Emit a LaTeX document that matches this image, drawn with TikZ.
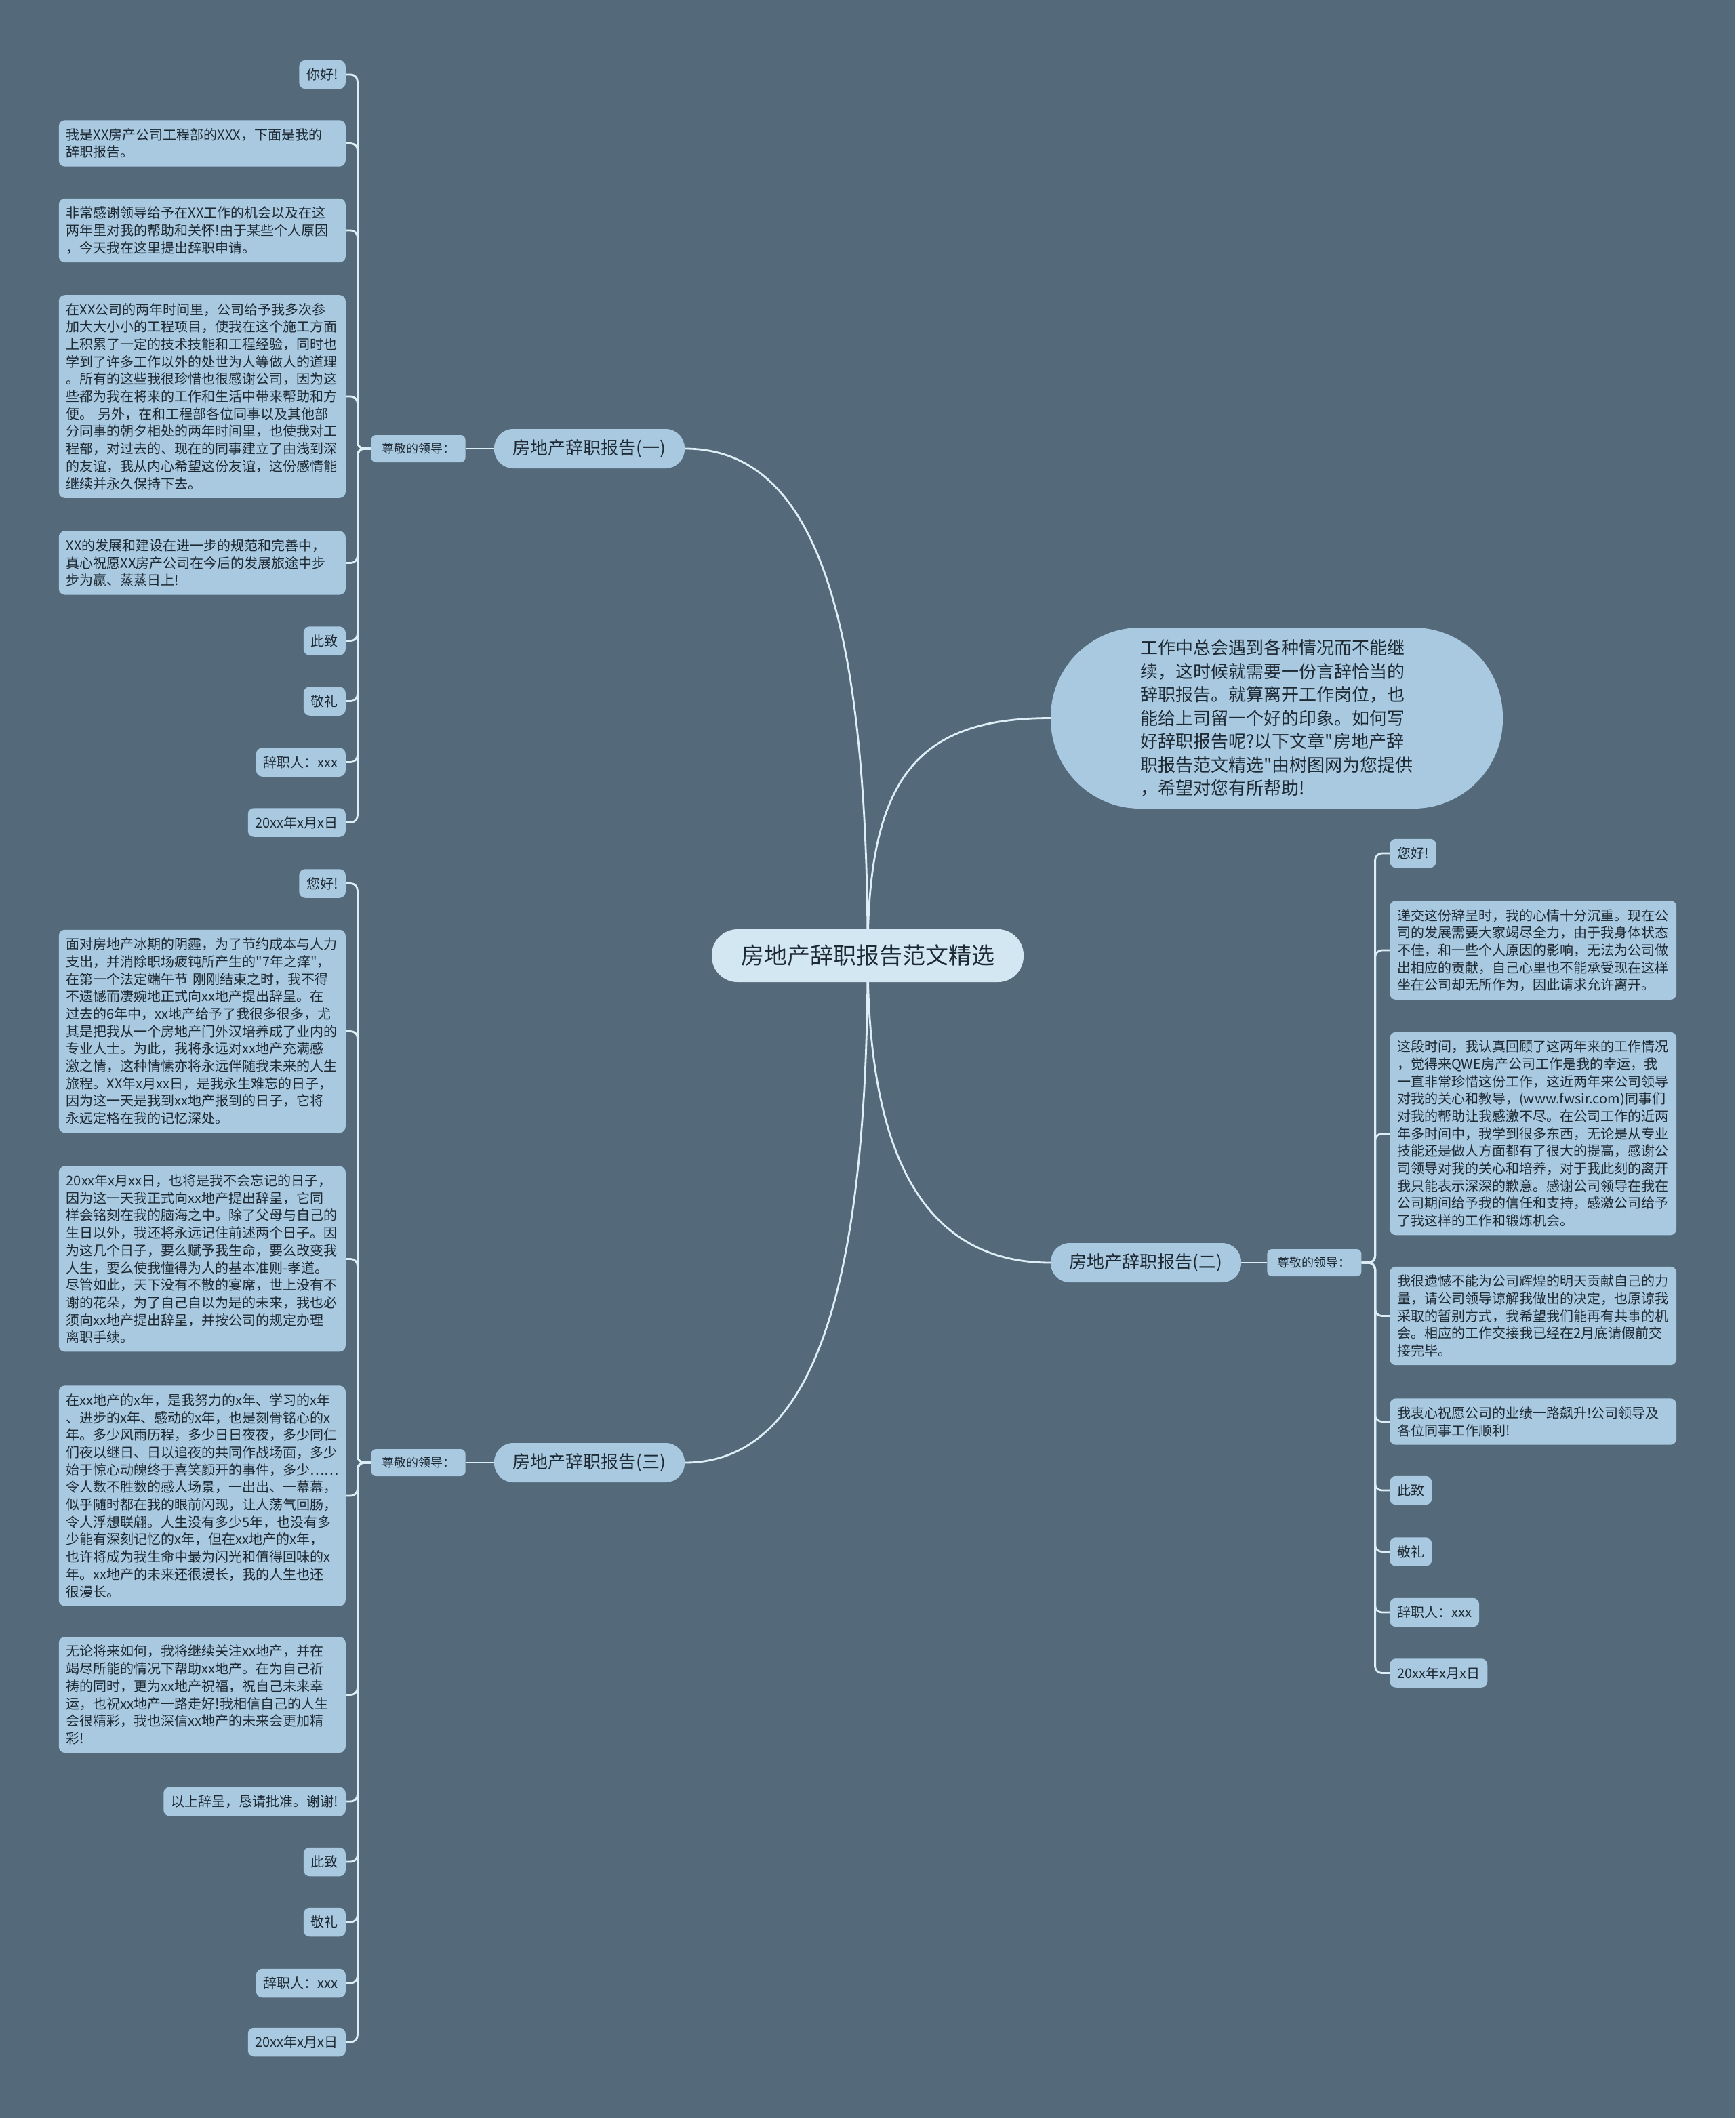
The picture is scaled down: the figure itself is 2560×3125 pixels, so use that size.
\documentclass[tikz,border=0pt]{standalone}
\usepackage{fontspec}
\setmainfont{Noto Sans CJK SC}[Ligatures=TeXOff]
\usepackage{xcolor}
\usepackage{tikz}
\usetikzlibrary{positioning, backgrounds}
\definecolor{TreeBg}{HTML}{546A7A}
\definecolor{TreeBox}{HTML}{A9C9E1}
\definecolor{TreeRoot}{HTML}{D3E7F3}
\definecolor{TreeLine}{HTML}{DDEEF6}
\definecolor{TreeText}{HTML}{1E2A33}
\newcommand\leaffont{\fontsize{20pt}{25.7pt}\selectfont}
\newcommand\leadfont{\fontsize{18pt}{22pt}\selectfont}
\newcommand\branchfont{\fontsize{26pt}{32pt}\selectfont}
\newcommand\rootfont{\fontsize{34pt}{40pt}\selectfont}
\newcommand\notefont{\fontsize{26pt}{34.5pt}\selectfont}

\begin{document}
\begin{tikzpicture}[
    x=1pt, y=-1pt,
    leaf/.style={
        rectangle, rounded corners=9pt, fill=TreeBox, text=TreeText,
        inner xsep=11pt, inner ysep=12pt, align=left, font=\leaffont
    },
    para/.style={leaf, text width=401pt},
    lead/.style={
        rectangle, rounded corners=7pt, fill=TreeBox, text=TreeText,
        minimum width=139pt, minimum height=40pt, inner sep=2pt,
        text centered, font=\leadfont
    },
    branch/.style={
        rectangle, rounded corners=28pt, fill=TreeBox, text=TreeText,
        minimum width=281pt, minimum height=58pt, inner sep=2pt,
        text centered, font=\branchfont
    },
    root/.style={
        rectangle, rounded corners=38pt, fill=TreeRoot, text=TreeText,
        minimum width=460pt, minimum height=78pt, inner sep=2pt,
        text centered, font=\rootfont
    },
    note/.style={
        rectangle, rounded corners=132pt, fill=TreeBox, text=TreeText,
        minimum width=667pt, minimum height=267pt, inner sep=2pt,
        align=left, font=\notefont
    },
    link/.style={draw=TreeLine, line width=2.8pt, rounded corners=10pt}
]

% centre and main branches
\node[root] (root) at (1280,1410) {房地产辞职报告范文精选};
\node[branch] (rep1) at (869.5,662) {房地产辞职报告(一)};
\node[branch] (rep2) at (1690.5,1863) {房地产辞职报告(二)};
\node[branch] (rep3) at (869.5,2158) {房地产辞职报告(三)};
\node[lead, left=42pt of rep1] (lead1) {尊敬的领导：};
\node[lead, right=38pt of rep2] (lead2) {尊敬的领导：};
\node[lead, left=42pt of rep3] (lead3) {尊敬的领导：};

\node[note] (intro) at (1883.5,1059.5)
    {工作中总会遇到各种情况而不能继\\
     续，这时候就需要一份言辞恰当的\\
     辞职报告。就算离开工作岗位，也\\
     能给上司留一个好的印象。如何写\\
     好辞职报告呢?以下文章"房地产辞\\
     职报告范文精选"由树图网为您提供\\
     ，希望对您有所帮助!};

% report (一)
\node[leaf, anchor=east] (a1) at (510,110) {你好!};
\node[para, anchor=east] (a2) at (510,211.5)
    {我是XX房产公司工程部的XXX，下面是我的\\辞职报告。};
\node[para, anchor=east] (a3) at (510,340)
    {非常感谢领导给予在XX工作的机会以及在这\\
     两年里对我的帮助和关怀!由于某些个人原因\\
     ，今天我在这里提出辞职申请。};
\node[para, anchor=east] (a4) at (510,585)
    {在XX公司的两年时间里，公司给予我多次参\\
     加大大小小的工程项目，使我在这个施工方面\\
     上积累了一定的技术技能和工程经验，同时也\\
     学到了许多工作以外的处世为人等做人的道理\\
     。所有的这些我很珍惜也很感谢公司，因为这\\
     些都为我在将来的工作和生活中带来帮助和方\\
     便。 另外，在和工程部各位同事以及其他部\\
     分同事的朝夕相处的两年时间里，也使我对工\\
     程部，对过去的、现在的同事建立了由浅到深\\
     的友谊，我从内心希望这份友谊，这份感情能\\
     继续并永久保持下去。};
\node[para, anchor=east] (a5) at (510,830.5)
    {XX的发展和建设在进一步的规范和完善中，\\
     真心祝愿XX房产公司在今后的发展旅途中步\\
     步为赢、蒸蒸日上!};
\node[leaf, anchor=east] (a6) at (510,945.5) {此致};
\node[leaf, anchor=east] (a7) at (510,1034.5) {敬礼};
\node[leaf, anchor=east] (a8) at (510,1124.5) {辞职人：xxx};
\node[leaf, anchor=east] (a9) at (510,1213.5) {20xx年x月x日};

% report (三)
\node[leaf, anchor=east] (c1) at (510,1303.5) {您好!};
\node[para, anchor=east] (c2) at (510,1521.5)
    {面对房地产冰期的阴霾，为了节约成本与人力\\
     支出，并消除职场疲钝所产生的"7年之痒"，\\
     在第一个法定端午节 刚刚结束之时，我不得\\
     不遗憾而凄婉地正式向xx地产提出辞呈。在\\
     过去的6年中，xx地产给予了我很多很多，尤\\
     其是把我从一个房地产门外汉培养成了业内的\\
     专业人士。为此，我将永远对xx地产充满感\\
     激之情，这种情愫亦将永远伴随我未来的人生\\
     旅程。XX年x月xx日，是我永生难忘的日子，\\
     因为这一天是我到xx地产报到的日子，它将\\
     永远定格在我的记忆深处。};
\node[para, anchor=east] (c3) at (510,1857.5)
    {20xx年x月xx日，也将是我不会忘记的日子，\\
     因为这一天我正式向xx地产提出辞呈，它同\\
     样会铭刻在我的脑海之中。除了父母与自己的\\
     生日以外，我还将永远记住前述两个日子。因\\
     为这几个日子，要么赋予我生命，要么改变我\\
     人生，要么使我懂得为人的基本准则-孝道。\\
     尽管如此，天下没有不散的宴席，世上没有不\\
     谢的花朵，为了自己自以为是的未来，我也必\\
     须向xx地产提出辞呈，并按公司的规定办理\\
     离职手续。};
\node[para, anchor=east] (c4) at (510,2207)
    {在xx地产的x年，是我努力的x年、学习的x年\\
     、进步的x年、感动的x年，也是刻骨铭心的x\\
     年。多少风雨历程，多少日日夜夜，多少同仁\\
     们夜以继日、日以追夜的共同作战场面，多少\\
     始于惊心动魄终于喜笑颜开的事件，多少……\\
     令人数不胜数的感人场景，一出出、一幕幕，\\
     似乎随时都在我的眼前闪现，让人荡气回肠，\\
     令人浮想联翩。人生没有多少5年，也没有多\\
     少能有深刻记忆的x年，但在xx地产的x年，\\
     也许将成为我生命中最为闪光和值得回味的x\\
     年。xx地产的未来还很漫长，我的人生也还\\
     很漫长。};
\node[para, anchor=east] (c5) at (510,2500.5)
    {无论将来如何，我将继续关注xx地产，并在\\
     竭尽所能的情况下帮助xx地产。在为自己祈\\
     祷的同时，更为xx地产祝福，祝自己未来幸\\
     运，也祝xx地产一路走好!我相信自己的人生\\
     会很精彩，我也深信xx地产的未来会更加精\\
     彩!};
\node[leaf, anchor=east] (c6) at (510,2658) {以上辞呈，恳请批准。谢谢!};
\node[leaf, anchor=east] (c7) at (510,2747) {此致};
\node[leaf, anchor=east] (c8) at (510,2836) {敬礼};
\node[leaf, anchor=east] (c9) at (510,2926) {辞职人：xxx};
\node[leaf, anchor=east] (c10) at (510,3013) {20xx年x月x日};

% report (二)
\node[leaf, anchor=west] (b1) at (2050,1259) {您好!};
\node[para, anchor=west] (b2) at (2050,1402)
    {递交这份辞呈时，我的心情十分沉重。现在公\\
     司的发展需要大家竭尽全力，由于我身体状态\\
     不佳，和一些个人原因的影响，无法为公司做\\
     出相应的贡献，自己心里也不能承受现在这样\\
     坐在公司却无所作为，因此请求允许离开。};
\node[para, anchor=west] (b3) at (2050,1672.5)
    {这段时间，我认真回顾了这两年来的工作情况\\
     ，觉得来QWE房产公司工作是我的幸运，我\\
     一直非常珍惜这份工作，这近两年来公司领导\\
     对我的关心和教导，(www.fwsir.com)同事们\\
     对我的帮助让我感激不尽。在公司工作的近两\\
     年多时间中，我学到很多东西，无论是从专业\\
     技能还是做人方面都有了很大的提高，感谢公\\
     司领导对我的关心和培养，对于我此刻的离开\\
     我只能表示深深的歉意。感谢公司领导在我在\\
     公司期间给予我的信任和支持，感激公司给予\\
     了我这样的工作和锻炼机会。};
\node[para, anchor=west] (b4) at (2050,1941.5)
    {我很遗憾不能为公司辉煌的明天贡献自己的力\\
     量，请公司领导谅解我做出的决定，也原谅我\\
     采取的暂别方式，我希望我们能再有共事的机\\
     会。相应的工作交接我已经在2月底请假前交\\
     接完毕。};
\node[para, anchor=west] (b5) at (2050,2097.5)
    {我衷心祝愿公司的业绩一路飙升!公司领导及\\
     各位同事工作顺利!};
\node[leaf, anchor=west] (b6) at (2050,2199) {此致};
\node[leaf, anchor=west] (b7) at (2050,2289.5) {敬礼};
\node[leaf, anchor=west] (b8) at (2050,2379) {辞职人：xxx};
\node[leaf, anchor=west] (b9) at (2050,2468.5) {20xx年x月x日};

\begin{scope}[on background layer]
\fill[TreeBg] (0,0) rectangle (2560,3125);

% centre to branches
\draw[link] (root.center) .. controls (1280,900) and (1200,662) .. (rep1.east);
\draw[link] (root.center) .. controls (1280,1150) and (1350,1059.5) .. (intro.west);
\draw[link] (root.center) .. controls (1280,1700) and (1360,1863) .. (rep2.west);
\draw[link] (root.center) .. controls (1280,1900) and (1200,2158) .. (rep3.east);

\draw[link] (rep1.west) -- (lead1.east);
\draw[link] (rep2.east) -- (lead2.west);
\draw[link] (rep3.west) -- (lead3.east);

% brackets to leaves
\foreach \n in {a1,a2,a3,a4,a5,a6,a7,a8,a9}
    \draw[link] (lead1.west) -- ++(-20,0) |- (\n.east);
\foreach \n in {c1,c2,c3,c4,c5,c6,c7,c8,c9,c10}
    \draw[link] (lead3.west) -- ++(-20,0) |- (\n.east);
\foreach \n in {b1,b2,b3,b4,b5,b6,b7,b8,b9}
    \draw[link] (lead2.east) -- ++(20,0) |- (\n.west);
\end{scope}

\end{tikzpicture}
\end{document}
